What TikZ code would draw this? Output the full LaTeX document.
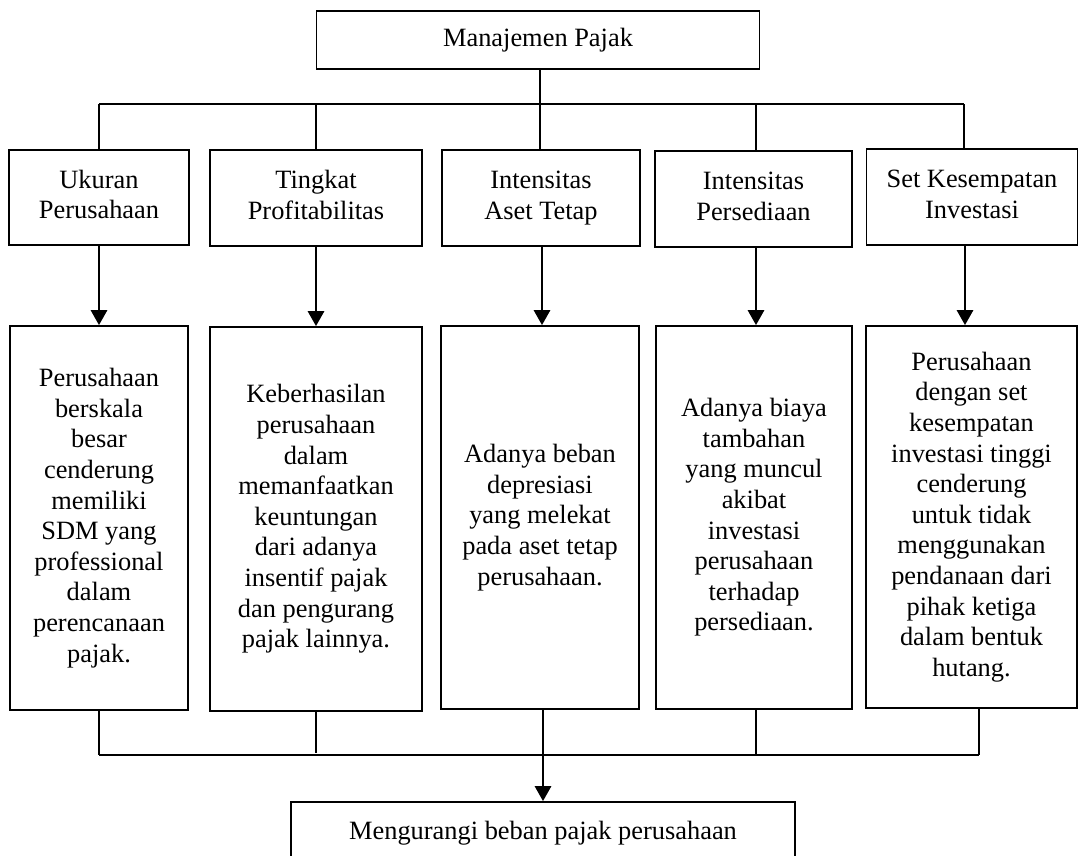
\documentclass[tikz,border=0pt]{standalone}
\usepackage{fontspec}
\setmainfont{Liberation Serif}
\usetikzlibrary{arrows.meta}
\begin{document}
\begin{tikzpicture}[x=1pt,y=-1pt,
  box/.style={draw, line width=1.7pt, inner sep=0pt, align=center, font=\fontsize{26.4}{30.6}\selectfont},
  link/.style={line width=1.7pt},
  arr/.style={line width=2.8pt, -{Triangle[width=16pt,length=15pt]}}]
\clip (0,0) rectangle (1081,855);
\fill[white] (0,0) rectangle (1081,855);
% top
\node[box, minimum width=443pt, minimum height=58pt] (top) at (538,40) {\strut Manajemen Pajak};
% first row
\node[box, minimum width=180pt, minimum height=95pt] (t1) at (99,197.5) {\strut Ukuran\\\strut Perusahaan};
\node[box, minimum width=211.5pt, minimum height=96pt] (t2) at (316,198) {\strut Tingkat\\\strut Profitabilitas};
\node[box, minimum width=197.5pt, minimum height=96pt] (t3) at (541,198) {\strut Intensitas\\\strut Aset Tetap};
\node[box, minimum width=197pt, minimum height=96pt] (t4) at (753.5,199) {\strut Intensitas\\\strut Persediaan};
\node[box, minimum width=211pt, minimum height=96pt] (t5) at (972,197) {\strut Set Kesempatan\\\strut Investasi};
% second row
\node[box, minimum width=178pt, minimum height=384pt] (l1) at (99,518) {Perusahaan\\berskala\\besar\\cenderung\\memiliki\\SDM yang\\professional\\dalam\\perencanaan\\pajak.};
\node[box, minimum width=211.5pt, minimum height=384pt] (l2) at (316,519) {Keberhasilan\\perusahaan\\dalam\\memanfaatkan\\keuntungan\\dari adanya\\insentif pajak\\dan pengurang\\pajak lainnya.};
\node[box, minimum width=198pt, minimum height=383pt] (l3) at (540,517.5) {Adanya beban\\depresiasi\\yang melekat\\pada aset tetap\\perusahaan.};
\node[box, minimum width=196pt, minimum height=383pt] (l4) at (754,517.5) {Adanya biaya\\tambahan\\yang muncul\\akibat\\investasi\\perusahaan\\terhadap\\persediaan.};
\node[box, minimum width=211pt, minimum height=382pt] (l5) at (971.5,517) {Perusahaan\\dengan set\\kesempatan\\investasi tinggi\\cenderung\\untuk tidak\\menggunakan\\pendanaan dari\\pihak ketiga\\dalam bentuk\\hutang.};
% bottom
\node[box, minimum width=504pt, minimum height=62pt] (bot) at (543,833) {\strut Mengurangi beban pajak perusahaan};
% upper bus
\coordinate (b1) at (99,104);
\coordinate (b2) at (316,104);
\coordinate (b3) at (540,104);
\coordinate (b4) at (756,104);
\coordinate (b5) at (964,104);
\draw[link] (b1) -- (b5);
\draw[link] (top.south -| b3) -- (b3);
\draw[link] (b1) -- (b1 |- t1.north);
\draw[link] (b2) -- (b2 |- t2.north);
\draw[link] (b3) -- (b3 |- t3.north);
\draw[link] (b4) -- (b4 |- t4.north);
\draw[link] (b5) -- (b5 |- t5.north);
% arrows between rows
\draw[arr] (t1.south) -- (l1.north);
\draw[arr] (t2.south) -- (l2.north);
\draw[arr] ([xshift=1pt]t3.south) -- ([xshift=2pt]l3.north);
\draw[arr] ([xshift=2.5pt]t4.south) -- ([xshift=2pt]l4.north);
\draw[arr] ([xshift=-7pt]t5.south) -- ([xshift=-6.5pt]l5.north);
% lower bus
\coordinate (j1) at (99,755);
\coordinate (j2) at (316,755);
\coordinate (j3) at (543,755);
\coordinate (j4) at (756,755);
\coordinate (j5) at (979,755);
\draw[link] (j1) -- (j5);
\draw[link] (l1.south) -- (j1);
\draw[link] (l2.south) -- ([yshift=2pt]j2);
\draw[link] (l3.south -| j3) -- (j3);
\draw[link] (l4.south -| j4) -- (j4);
\draw[link] (l5.south -| j5) -- (j5);
\coordinate (a0) at (543,740);
\draw[arr] (a0) -- (a0 |- bot.north);
\end{tikzpicture}
\end{document}
